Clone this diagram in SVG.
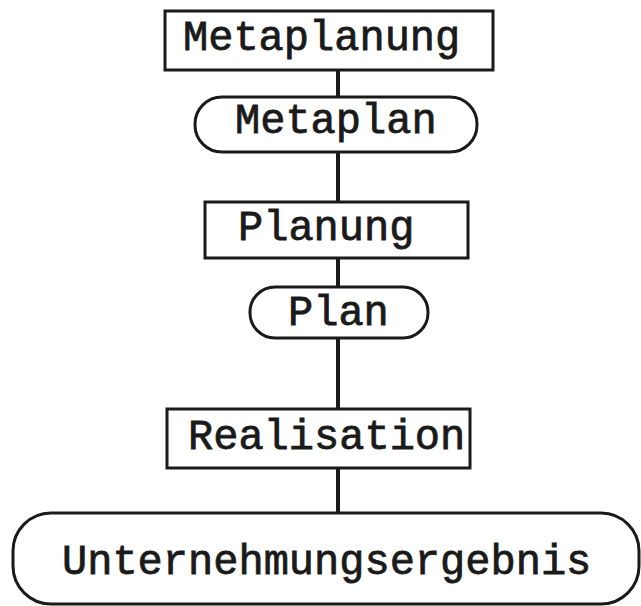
<svg xmlns="http://www.w3.org/2000/svg" width="641" height="606" viewBox="0 0 641 606">
<style>
.box{fill:#fff;stroke:#1a1a1a;stroke-width:3}
.lbl{font-family:"Liberation Mono","Courier New",monospace;font-size:42px;fill:#1a1a1a;stroke:#1a1a1a;stroke-width:0.8}
.con{stroke:#1a1a1a;stroke-width:4;fill:none}
</style>
<rect width="641" height="606" fill="#fff"/>
<g id="connectors">
<line class="con" x1="338" y1="70" x2="338" y2="97"/>
<line class="con" x1="338" y1="152" x2="338" y2="202"/>
<line class="con" x1="338" y1="258" x2="338" y2="287"/>
<line class="con" x1="338" y1="338" x2="338" y2="409"/>
<line class="con" x1="338" y1="468" x2="338" y2="513"/>
</g>
<g id="metaplanung">
<rect class="box" x="165" y="11" width="328" height="59"/>
<text class="lbl" x="183" y="50">Metaplanung</text>
</g>
<g id="metaplan">
<rect class="box" x="195" y="97" width="282" height="55" rx="27" ry="27"/>
<text class="lbl" x="235" y="133">Metaplan</text>
</g>
<g id="planung">
<rect class="box" x="205" y="202" width="263" height="56"/>
<text class="lbl" x="238" y="240">Planung</text>
</g>
<g id="plan">
<rect class="box" x="250" y="287" width="178" height="51" rx="25" ry="25"/>
<text class="lbl" x="288" y="325">Plan</text>
</g>
<g id="realisation">
<rect class="box" x="167" y="409" width="303" height="59"/>
<text class="lbl" x="188" y="449">Realisation</text>
</g>
<g id="unternehmungsergebnis">
<rect class="box" x="13" y="513" width="626" height="91" rx="38" ry="38"/>
<text class="lbl" x="62" y="574">Unternehmungsergebnis</text>
</g>
</svg>
